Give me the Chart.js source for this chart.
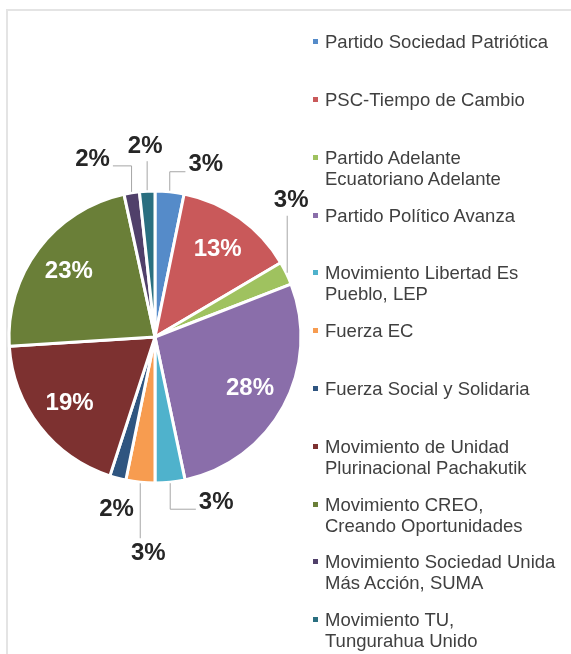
<!DOCTYPE html>
<html>
<head>
<meta charset="utf-8">
<script src="https://cdn.jsdelivr.net/npm/chart.js@4"></script>
<style>
  body { margin: 0; background: #fff; }
  #wrap { position: absolute; left: 0; top: 0; width: 571px; height: 654px; }
  #frame { position: absolute; left: 6px; top: 9px; width: 600px; height: 700px;
           border-left: 2px solid #e4e4e4; border-top: 2px solid #e4e4e4; }
  #legend { position: absolute; left: 0; top: 0; font-family: 'Liberation Sans', Arial, sans-serif;
            font-size: 18.5px; line-height: 21px; color: #404040; }
  .item { position: absolute; left: 325px; white-space: pre; }
  .mark { position: absolute; left: -12px; top: 8px; width: 5px; height: 5px; }
</style>
</head>
<body>
<div id="frame"></div>
<div id="wrap"><canvas id="pie-chart"></canvas></div>
<div id="legend"></div>
<script>
// party names (legend), line breaks as in the original
const partidos = [
    'Partido Sociedad Patriótica',
    'PSC-Tiempo de Cambio',
    'Partido Adelante\nEcuatoriano Adelante',
    'Partido Político Avanza',
    'Movimiento Libertad Es\nPueblo, LEP',
    'Fuerza EC',
    'Fuerza Social y Solidaria',
    'Movimiento de Unidad\nPlurinacional Pachakutik',
    'Movimiento CREO,\nCreando Oportunidades',
    'Movimiento Sociedad Unida\nMás Acción, SUMA',
    'Movimiento TU,\nTungurahua Unido'
];

// share of each party (%)
const valores = [3.2, 13.3, 2.6, 27.6, 3.3, 3.2, 1.8, 19.0, 22.6, 1.7, 1.7];

const colores = [
    '#558bc9', '#c9595a', '#9fc25f', '#8a6eaa', '#4fb2cc', '#f79c50',
    '#2f5580', '#7d3130', '#6a7f38', '#50406a', '#2a6f80'
];

const total = valores.reduce((a, b) => a + b, 0);
const etiquetas = valores.map(v => Math.round(v / total * 100) + '%');

// where the small slices put their label (offset from the slice edge)
const fuera = {
    0: [36, -26], 2: [4, -72], 4: [46, 19], 5: [8, 70],
    6: [-1, 30], 9: [-39, -33], 10: [-2, -44]
};

// html legend
const legendEl = document.getElementById('legend');
partidos.forEach((p, i) => {
    const div = document.createElement('div');
    div.className = 'item';
    div.style.top = (31.2 + i * 57.8) + 'px';
    div.textContent = p;
    const m = document.createElement('span');
    m.className = 'mark';
    m.style.background = colores[i];
    div.appendChild(m);
    legendEl.appendChild(div);
});

// percent labels + leader lines
const labelPlugin = {
    id: 'pctLabels',
    afterDatasetsDraw(chart) {
        const ctx = chart.ctx;
        const arcs = chart.getDatasetMeta(0).data;
        ctx.save();
        ctx.font = 'bold 24px "Liberation Sans", Arial, sans-serif';
        ctx.textAlign = 'center';
        ctx.textBaseline = 'middle';
        arcs.forEach((arc, i) => {
            const p = arc.getProps(['x', 'y', 'startAngle', 'endAngle', 'outerRadius'], true);
            const mid = (p.startAngle + p.endAngle) / 2;
            const txt = etiquetas[i];
            if (!fuera[i]) {
                const r = p.outerRadius * 0.74;
                ctx.fillStyle = '#ffffff';
                ctx.fillText(txt, p.x + Math.cos(mid) * r, p.y + Math.sin(mid) * r);
                return;
            }
            const ax = p.x + Math.cos(mid) * (p.outerRadius + 1);
            const ay = p.y + Math.sin(mid) * (p.outerRadius + 1);
            const lx = ax + fuera[i][0];
            const ly = ay + fuera[i][1];
            const w = ctx.measureText(txt).width;
            // leader
            ctx.strokeStyle = '#a6a6a6';
            ctx.lineWidth = 1;
            ctx.beginPath();
            if (Math.abs(lx - ax) > w / 2 + 2) {
                const side = lx > ax ? -1 : 1;
                ctx.moveTo(ax, ay);
                ctx.lineTo(ax, ly + 7);
                ctx.lineTo(lx + side * (w / 2 + 3), ly + 7);
                ctx.stroke();
            } else {
                const ey = ly < ay ? ly + 15 : ly - 15;
                if (Math.abs(ey - ay) > 18) {
                    ctx.moveTo(ax, ay);
                    ctx.lineTo(ax, ey);
                    ctx.stroke();
                }
            }
            ctx.fillStyle = '#262626';
            ctx.fillText(txt, lx, ly);
        });
        ctx.restore();
    }
};

const pieEl = document.getElementById('pie-chart');

const pieChart = new Chart(pieEl, {
    type: 'pie',
    data: {
        labels: partidos,
        datasets: [{
            data: valores,
            backgroundColor: colores,
            borderColor: '#ffffff',
            borderWidth: 3
        }]
    },
    options: {
        responsive: true,
        maintainAspectRatio: false,
        animation: false,
        layout: {
            padding: { left: 7.5, right: 268.5, top: 189.5, bottom: 169.5 }
        },
        plugins: {
            legend: { display: false },
            tooltip: { enabled: false }
        }
    },
    plugins: [labelPlugin]
});
</script>
</body>
</html>
